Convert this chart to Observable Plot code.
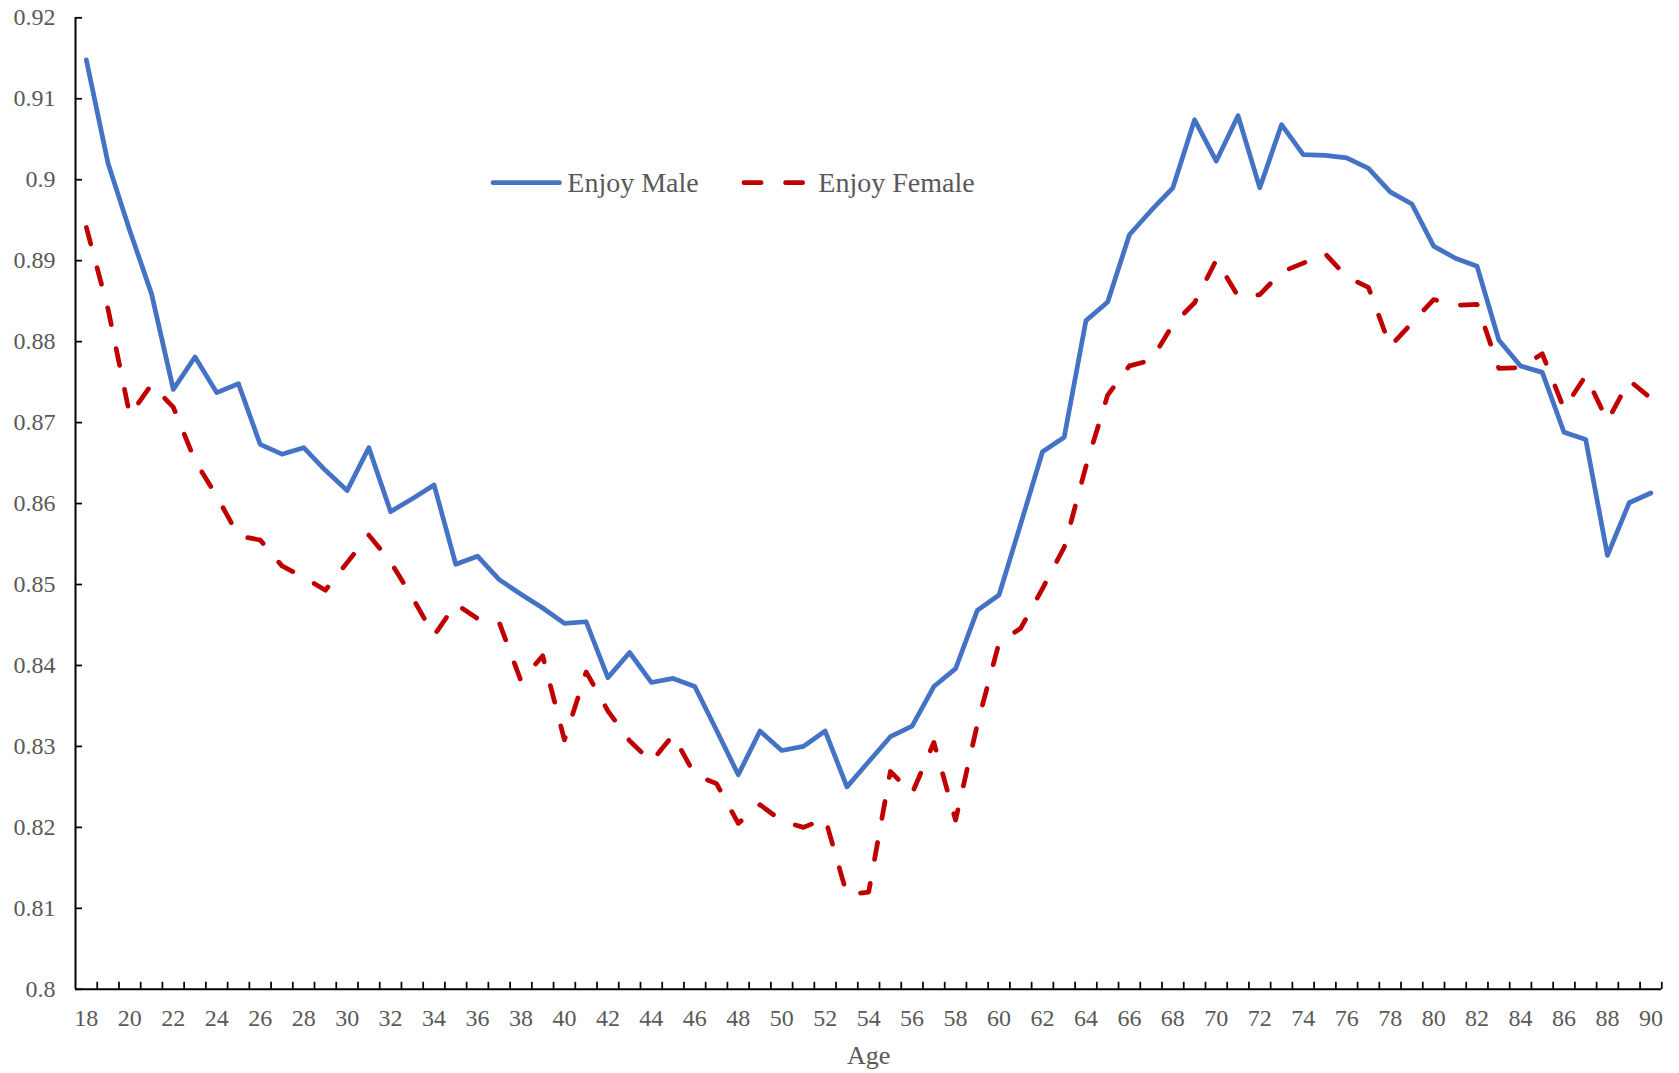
<!DOCTYPE html>
<html>
<head>
<meta charset="utf-8">
<script src="https://cdn.jsdelivr.net/npm/d3@7"></script>
<script src="https://cdn.jsdelivr.net/npm/@observablehq/plot@0.6"></script>
<style>
  html, body { margin: 0; padding: 0; background: #fff; }
  #wrap { position: relative; width: 1679px; height: 1073px; }
  #legend { position: absolute; left: 0; top: 0; pointer-events: none; }
  #wrap svg, #wrap svg text { font-family: 'Liberation Serif', 'Times New Roman', serif !important; }
</style>
</head>
<body>
<div id="wrap"></div>
<script>
// ---- data ----
const ages = [18,19,20,21,22,23,24,25,26,27,28,29,30,31,32,33,34,35,36,37,38,39,40,41,42,43,44,45,46,47,48,49,50,51,52,53,54,
  55,56,57,58,59,60,61,62,63,64,65,66,67,68,69,70,71,72,73,74,75,76,77,78,79,80,81,82,83,84,85,86,87,88,89,90];
const enjoyMale = [0.9148,0.9020,0.8937,0.8859,0.8741,0.8781,0.8737,0.8748,0.8673,0.8661,0.8669,0.8641,0.8616,0.8669,0.8590,0.8606,0.8623,
  0.8525,0.8535,0.8506,0.8488,0.8471,0.8452,0.8454,0.8385,0.8416,0.8379,0.8384,0.8374,0.8320,0.8265,0.8319,0.8295,0.8300,0.8319,0.8250,0.8281,
  0.8312,0.8325,0.8374,0.8396,0.8468,0.8487,0.8575,0.8664,0.8682,0.8826,0.8849,0.8932,0.8962,0.8990,0.9074,0.9023,0.9079,0.8990,0.9068,0.9031,
  0.9030,0.9027,0.9014,0.8985,0.8970,0.8918,0.8903,0.8893,0.8802,0.8770,0.8762,0.8688,0.8679,0.8536,0.8601,0.8613];
const enjoyFemale = [0.8941,0.8840,0.8709,0.8747,0.8719,0.8653,0.8609,0.8560,0.8555,0.8523,0.8509,0.8493,0.8527,0.8561,0.8528,0.8484,0.8437,
  0.8476,0.8458,0.8453,0.8381,0.8412,0.8308,0.8392,0.8344,0.8307,0.8281,0.8314,0.8265,0.8254,0.8205,0.8228,0.8208,0.8200,0.8211,0.8117,0.8120,
  0.8269,0.8242,0.8305,0.8209,0.8327,0.8428,0.8446,0.8495,0.8546,0.8646,0.8734,0.8770,0.8777,0.8821,0.8848,0.8901,0.8856,0.8858,0.8886,0.8897,
  0.8909,0.8880,0.8867,0.8794,0.8823,0.8852,0.8845,0.8846,0.8767,0.8768,0.8785,0.8717,0.8758,0.8702,0.8752,0.8730];
const seriesNames = ["Enjoy Male", "Enjoy Female"];
const yTicks = [0.8,0.81,0.82,0.83,0.84,0.85,0.86,0.87,0.88,0.89,0.9,0.91,0.92];
const xTickLabels = [18,20,22,24,26,28,30,32,34,36,38,40,42,44,46,48,50,52,54,56,58,60,62,64,66,68,70,72,74,76,78,80,82,84,86,88,90];
const axisTitle = "Age";

// ---- styles ----
const colors = ["#4472C4", "#C00000"];
const dashes = [null, "17.1 24.5"];
const lineWidth = 4.75;
const textColor = "#595959";
const font = "'Liberation Serif', 'Times New Roman', serif";

const series = [enjoyMale, enjoyFemale].map((vals, i) =>
  ages.map((a, j) => ({age: a, value: vals[j], name: seriesNames[i]})));
const boundaries = ages.map(a => a + 0.5);

const W = 1679, H = 1073;
const chart = Plot.plot({
  width: W, height: H,
  marginLeft: 75, marginRight: 17.7, marginTop: 17.3, marginBottom: 84.2,
  style: {fontFamily: font, fontSize: "24px", background: "#fff", color: "#000", overflow: "visible"},
  x: {type: "linear", domain: [ages[0] - 0.5, ages[ages.length - 1] + 0.5]},
  y: {domain: [yTicks[0], yTicks[yTicks.length - 1]]},
  marks: [
    Plot.axisY({ticks: yTicks, tickSize: 7, dx: 7, fill: "none", stroke: "#000", strokeWidth: 1.75, label: null}),
    Plot.axisY({ticks: yTicks, tickSize: 0, tickPadding: 20, fill: textColor, fontSize: 24, fontFamily: font,
      fontVariant: "normal", label: null, tickFormat: d => String(+d.toFixed(2))}),
    Plot.axisX({ticks: boundaries, tickSize: 7, dy: -7, fill: "none", stroke: "#000", strokeWidth: 1.75, label: null}),
    Plot.axisX({ticks: xTickLabels, tickSize: 0, tickPadding: 20, fill: textColor, fontSize: 24, fontFamily: font,
      fontVariant: "normal", label: null, tickFormat: d => String(d)}),
    Plot.ruleX([ages[0] - 0.5], {stroke: "#000", strokeWidth: 2}),
    Plot.ruleY([yTicks[0]], {stroke: "#000", strokeWidth: 2}),
    ...series.map((d, i) => Plot.line(d, {
      x: "age", y: "value", stroke: colors[i], strokeWidth: lineWidth,
      strokeDasharray: dashes[i], strokeLinecap: "round", strokeLinejoin: "round"
    })),
    Plot.text([axisTitle], {frameAnchor: "bottom", dy: 66, lineAnchor: "middle", fill: textColor, fontSize: 26, fontFamily: font})
  ]
});

const wrap = document.getElementById("wrap");
wrap.appendChild(chart);

// ---- legend overlay (inside plot area, as in the original) ----
const leg = d3.select(wrap).append("svg").attr("id", "legend").attr("width", W).attr("height", H);
const legendItems = [
  {x1: 493, x2: 559.4, tx: 567.3},
  {x1: 743.95, x2: 802.7, tx: 818.3}
];
seriesNames.forEach((name, i) => {
  const it = legendItems[i];
  leg.append("line").attr("x1", it.x1).attr("x2", it.x2).attr("y1", 182.7).attr("y2", 182.7)
    .attr("stroke", colors[i]).attr("stroke-width", lineWidth).attr("stroke-linecap", "round")
    .attr("stroke-dasharray", dashes[i]);
  leg.append("text").attr("x", it.tx).attr("y", 191.7).attr("fill", textColor)
    .attr("font-family", font).attr("font-size", 28).text(name);
});
</script>
</body>
</html>
